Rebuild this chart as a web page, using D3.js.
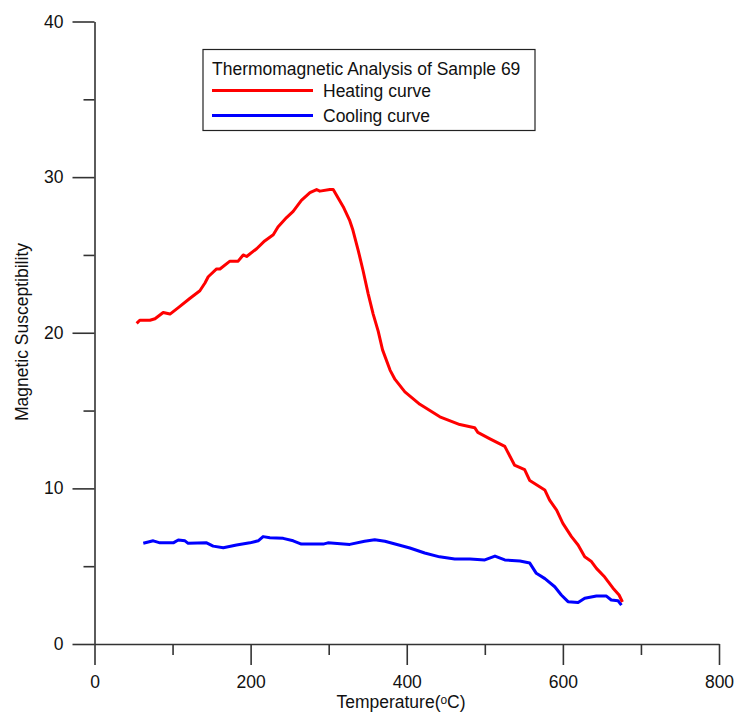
<!DOCTYPE html>
<html>
<head>
<meta charset="utf-8">
<script src="https://cdn.jsdelivr.net/npm/d3@7"></script>
<style>
  html, body { margin: 0; padding: 0; background: #fff; }
  svg { display: block; font-family: "Liberation Sans", Arial, sans-serif; }
</style>
</head>
<body>
<svg id="chart" width="735" height="718"></svg>
<script>
// Heating run: temperature (°C) and susceptibility
const heatT = [54, 58, 71, 77.5, 88, 96.7, 107, 122, 135, 141.5, 145.7, 156.4, 160.7, 173.5, 184, 190.5, 194.9,
  207.7, 218, 229, 235, 246, 254.5, 265, 276, 284.5, 288.7, 301.5, 305.8, 318.6, 327, 331, 337.8, 344,
  350.6, 357, 363.4, 369, 378.6, 385, 397.6, 416.8, 442.4, 468, 487, 491, 506, 525.6, 538, 551, 557.6,
  576.8, 583, 592, 600, 611, 619.5, 628, 636.6, 643, 653.6, 664, 672, 676.3];
const heatM = [20.6, 20.8, 20.8, 20.9, 21.3, 21.2, 21.6, 22.2, 22.7, 23.2, 23.6, 24.1, 24.1, 24.6, 24.6, 25.0, 24.9,
  25.4, 25.9, 26.3, 26.8, 27.4, 27.8, 28.5, 29.0, 29.2, 29.1, 29.2, 29.2, 28.1, 27.2, 26.6, 25.3, 24.0,
  22.5, 21.2, 20.1, 18.9, 17.6, 17.0, 16.2, 15.4, 14.6, 14.1, 13.9, 13.6, 13.2, 12.7, 11.5, 11.2, 10.5,
  9.9, 9.25, 8.6, 7.75, 6.9, 6.36, 5.6, 5.3, 4.86, 4.3, 3.6, 3.15, 2.7];

// Cooling run: temperature (°C) and susceptibility
const coolT = [62.5, 75.3, 83.9, 100.9, 107.3, 115.9, 120, 143.6, 152, 165, 182, 199, 209.7, 216, 224.7, 241.7,
  254.5, 265, 280, 293, 299, 327, 346, 359, 372, 391, 404, 423, 442, 461.5, 481, 500, 513, 525.6, 545,
  557.6, 566, 577, 589.6, 598, 606.6, 619.5, 628, 643, 655.8, 662, 670.7, 675];
const coolM = [6.47, 6.63, 6.5, 6.5, 6.68, 6.63, 6.47, 6.5, 6.29, 6.19, 6.36, 6.5, 6.63, 6.9, 6.83, 6.79,
  6.63, 6.42, 6.42, 6.42, 6.5, 6.4, 6.6, 6.7, 6.6, 6.35, 6.17, 5.85, 5.6, 5.46, 5.46, 5.4, 5.65, 5.4, 5.33,
  5.2, 4.54, 4.2, 3.68, 3.15, 2.72, 2.66, 2.94, 3.08, 3.08, 2.83, 2.78, 2.5];

const xMajor = [0, 200, 400, 600, 800];
const xMinor = [100, 300, 500, 700];
const yMajor = [0, 10, 20, 30, 40];
const yMinor = [5, 15, 25, 35];

const legendTitle = "Thermomagnetic Analysis of Sample 69";
const seriesNames = ["Heating curve", "Cooling curve"];
const seriesColors = ["#ff0000", "#0000ff"];

const svg = d3.select("#chart");
const fs = 17.5;
const axisColor = "#333";

const x = d3.scaleLinear().domain([0, 800]).range([94.5, 719]);
const y = d3.scaleLinear().domain([0, 40]).range([644, 21.5]);

// Minor ticks
svg.append("g").attr("transform", `translate(0,${y(0)})`)
  .call(d3.axisBottom(x).tickValues(xMinor).tickSize(11).tickSizeOuter(0).tickFormat(""))
  .call(g => g.select(".domain").remove());
svg.append("g").attr("transform", `translate(${x(0)},0)`)
  .call(d3.axisLeft(y).tickValues(yMinor).tickSize(11).tickSizeOuter(0).tickFormat(""))
  .call(g => g.select(".domain").remove());

// Major axes
const xAxis = svg.append("g").attr("transform", `translate(0,${y(0)})`)
  .call(d3.axisBottom(x).tickValues(xMajor).tickSize(21).tickSizeOuter(0).tickPadding(11).tickFormat(d3.format("d")));
const yAxis = svg.append("g").attr("transform", `translate(${x(0)},0)`)
  .call(d3.axisLeft(y).tickValues(yMajor).tickSize(22).tickSizeOuter(0).tickPadding(9).tickFormat(d3.format("d")));

svg.selectAll(".tick line, .domain").attr("stroke", axisColor).attr("stroke-width", 1.6);
svg.selectAll(".tick text").attr("font-size", fs).attr("fill", "#111")
  .attr("font-family", "'Liberation Sans', Arial, sans-serif");

// Axis titles
svg.append("text")
  .attr("x", 401).attr("y", 708)
  .attr("text-anchor", "middle").attr("font-size", fs).attr("fill", "#111")
  .text("Temperature(ᵒC)");
svg.append("text")
  .attr("transform", "translate(28,332) rotate(-90)")
  .attr("text-anchor", "middle").attr("font-size", fs).attr("fill", "#111")
  .text("Magnetic Susceptibility");

// Curves
const line = d3.line().x(d => x(d[0])).y(d => y(d[1]));
const heat = heatT.map((t, i) => [t, heatM[i]]);
const cool = coolT.map((t, i) => [t, coolM[i]]);

svg.append("path").datum(cool)
  .attr("fill", "none").attr("stroke", seriesColors[1]).attr("stroke-width", 3)
  .attr("stroke-linejoin", "round").attr("d", line);
svg.append("path").datum(heat)
  .attr("fill", "none").attr("stroke", seriesColors[0]).attr("stroke-width", 3)
  .attr("stroke-linejoin", "round").attr("d", line);

// Legend
const lg = svg.append("g");
lg.append("rect").attr("x", 203).attr("y", 49.5).attr("width", 332).attr("height", 81)
  .attr("fill", "#fff").attr("stroke", "#222").attr("stroke-width", 1.2);
lg.append("text").attr("x", 212).attr("y", 74.5).attr("font-size", fs).attr("fill", "#111").text(legendTitle);
seriesNames.forEach((name, i) => {
  const yy = 90.5 + i * 25;
  lg.append("line").attr("x1", 212).attr("x2", 313).attr("y1", yy).attr("y2", yy)
    .attr("stroke", seriesColors[i]).attr("stroke-width", 3);
  lg.append("text").attr("x", 323).attr("y", yy + 6).attr("font-size", fs).attr("fill", "#111").text(name);
});
</script>
</body>
</html>
